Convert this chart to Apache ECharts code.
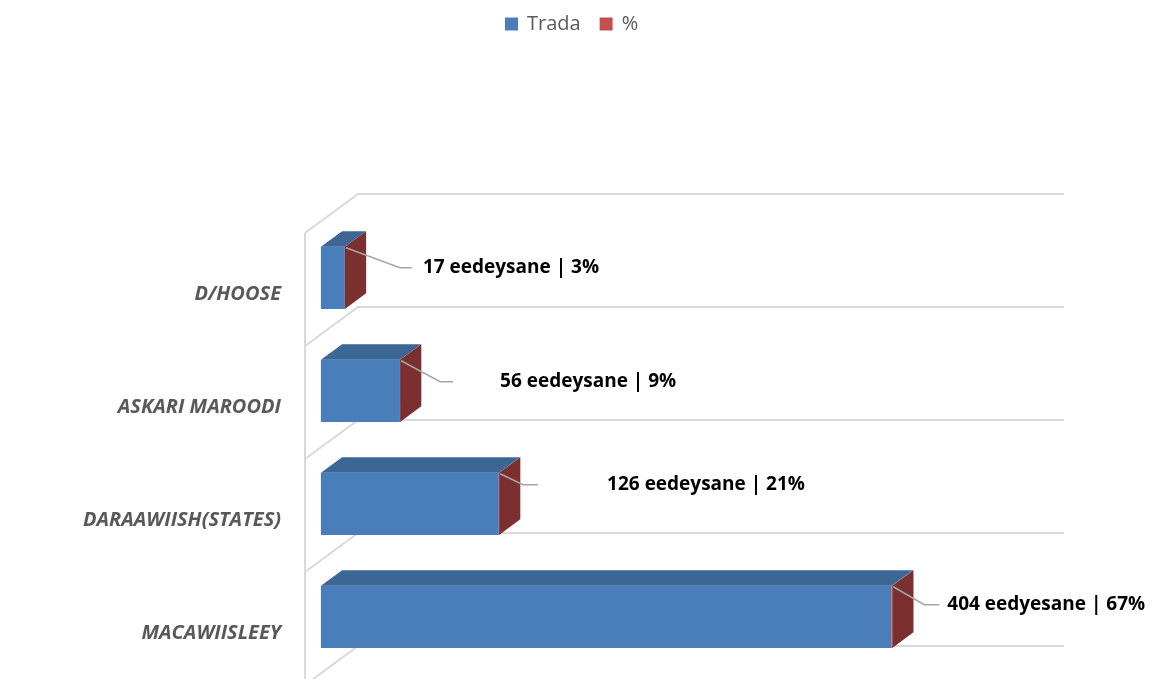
<!DOCTYPE html>
<html>
<head>
<meta charset="utf-8">
<script src="https://cdn.jsdelivr.net/npm/echarts@6/dist/echarts.min.js"></script>
<style>
  html, body { margin: 0; padding: 0; background: #fff; }
  #chart { width: 1155px; height: 679px; }
</style>
</head>
<body>
<div id="chart"></div>
<script>
var categories = ["D/HOOSE", "ASKARI MAROODI", "DARAAWIISH(STATES)", "MACAWIISLEEY"];
var tradaValues = [17, 56, 126, 404];
var pctValues = [3, 9, 21, 67];
var unitWords = ["eedeysane", "eedeysane", "eedeysane", "eedyesane"];

// leader / label layout, pixels from the bar's top-right front corner
var leaderBend = [55, 40, 24, 32];
var leaderEnd = [67, 53, 39, 47];
var labelDx = [78, 100, 108, 55];
var labelDy = [21, 22, 12, 19];

var FRONT_BLUE = "#4a7ebb", TOP_BLUE = "#3c6694", SIDE_RED = "#7c2f2f", RED = "#c0504d";
var GRID_LINE = "#d9d9d9";
var X_MAX = 500;

// fake 3D: wall depth, bar placement and size as fractions of one category band
var WALL_DX = 0.469, WALL_DY = -0.345;
var BAR_SHIFT = 0.3, BAR_DEPTH = 0.4, BAR_H = 0.55;

function depthVec(band, f) {
  return [band * WALL_DX * f, band * WALL_DY * f];
}

function renderFrame(params, api) {
  var i = api.value(1);
  var band = api.size([0, 1])[1];
  var c0 = api.coord([0, i]);
  var xEnd = api.coord([X_MAX, i])[0];
  var w = depthVec(band, 1);
  var top = c0[1] - band / 2, bottom = c0[1] + band / 2;
  var st = { stroke: GRID_LINE, lineWidth: 2, fill: "none" };
  var kids = [
    { type: "line", shape: { x1: c0[0], y1: top, x2: c0[0], y2: bottom }, style: st },
    { type: "polyline", shape: { points: [[c0[0], top], [c0[0] + w[0], top + w[1]], [xEnd + w[0], top + w[1]]] }, style: st }
  ];
  if (i === categories.length - 1) {
    kids.push({ type: "polyline", shape: { points: [[c0[0], bottom], [c0[0] + w[0], bottom + w[1]], [xEnd + w[0], bottom + w[1]]] }, style: st });
  }
  return { type: "group", children: kids };
}

function barBox(api, from, to, i) {
  var band = api.size([0, 1])[1];
  var s = depthVec(band, BAR_SHIFT);
  var d = depthVec(band, BAR_DEPTH);
  var h = band * BAR_H;
  var p0 = api.coord([from, i]), p1 = api.coord([to, i]);
  var x0 = p0[0] + s[0], x1 = p1[0] + s[0];
  var yt = p0[1] + s[1] - h / 2;
  return { x0: x0, x1: x1, yt: yt, h: h, d: d };
}

function renderTrada(params, api) {
  var i = api.value(1);
  var b = barBox(api, 0, api.value(0), i);
  return {
    type: "group",
    children: [
      { type: "rect", shape: { x: b.x0, y: b.yt, width: b.x1 - b.x0, height: b.h }, style: { fill: FRONT_BLUE } },
      { type: "polygon", shape: { points: [[b.x0, b.yt], [b.x1, b.yt], [b.x1 + b.d[0], b.yt + b.d[1]], [b.x0 + b.d[0], b.yt + b.d[1]]] }, style: { fill: TOP_BLUE } }
    ]
  };
}

function renderPct(params, api) {
  var i = api.value(1);
  var base = api.value(2);
  var b = barBox(api, base, base + api.value(0), i);
  var xe = b.x1, yt = b.yt;
  var ly = yt + labelDy[i];
  return {
    type: "group",
    children: [
      { type: "rect", shape: { x: b.x0, y: yt, width: b.x1 - b.x0, height: b.h }, style: { fill: RED } },
      { type: "polygon", shape: { points: [[b.x0, yt], [b.x1, yt], [b.x1 + b.d[0], yt + b.d[1]], [b.x0 + b.d[0], yt + b.d[1]]] }, style: { fill: TOP_BLUE } },
      { type: "polygon", shape: { points: [[xe, yt], [xe + b.d[0], yt + b.d[1]], [xe + b.d[0], yt + b.d[1] + b.h], [xe, yt + b.h]] }, style: { fill: SIDE_RED } },
      { type: "polyline", shape: { points: [[xe + 1, yt + 1], [xe + leaderBend[i], ly], [xe + leaderEnd[i], ly]] }, style: { stroke: "#a6a6a6", lineWidth: 1.5, fill: "none" } },
      {
        type: "text",
        style: {
          x: xe + labelDx[i], y: ly,
          text: tradaValues[i] + " " + unitWords[i] + " | " + pctValues[i] + "%",
          fill: "#000", font: 'bold 19px "Open Sans"',
          align: "left", verticalAlign: "middle"
        }
      }
    ]
  };
}

var chart = echarts.init(document.getElementById("chart"));

chart.setOption({
  animation: false,
  legend: {
    data: ["Trada", "%"],
    top: 9,
    left: 500,
    icon: "rect",
    itemWidth: 13,
    itemHeight: 13,
    itemGap: 19,
    textStyle: { color: "#595959", fontSize: 20, fontFamily: "Open Sans", padding: [0, 0, 0, 4] }
  },
  grid: { left: 305, right: 144, top: 233, bottom: -6, containLabel: false, outerBoundsMode: "none" },
  xAxis: { type: "value", min: 0, max: X_MAX, show: false },
  yAxis: {
    type: "category",
    data: categories,
    inverse: true,
    axisLine: { show: false },
    axisTick: { show: false },
    splitLine: { show: false },
    axisLabel: {
      margin: 24,
      formatter: function (v) { return "{c|" + v + "}"; },
      rich: {
        c: {
          padding: [10, 0, 0, 0],
          color: "#595959",
          fontSize: 20,
          fontWeight: "bold",
          fontStyle: "italic",
          fontFamily: "Open Sans"
        }
      }
    }
  },
  series: [
    {
      name: "frame",
      type: "custom",
      renderItem: renderFrame,
      data: categories.map(function (c, i) { return [0, i]; }),
      encode: { x: 0, y: 1 },
      silent: true,
      z: 1
    },
    {
      name: "Trada",
      type: "custom",
      renderItem: renderTrada,
      itemStyle: { color: FRONT_BLUE },
      data: tradaValues.map(function (v, i) { return [v, i]; }),
      encode: { x: 0, y: 1 },
      z: 2
    },
    {
      name: "%",
      type: "custom",
      renderItem: renderPct,
      itemStyle: { color: RED },
      // % is plotted as a fraction stacked on the count, so only its end face shows
      data: pctValues.map(function (p, i) { return [p / 100, i, tradaValues[i]]; }),
      encode: { x: 0, y: 1 },
      z: 3
    }
  ]
});

window.addEventListener("resize", function () { chart.resize(); });
</script>
</body>
</html>
